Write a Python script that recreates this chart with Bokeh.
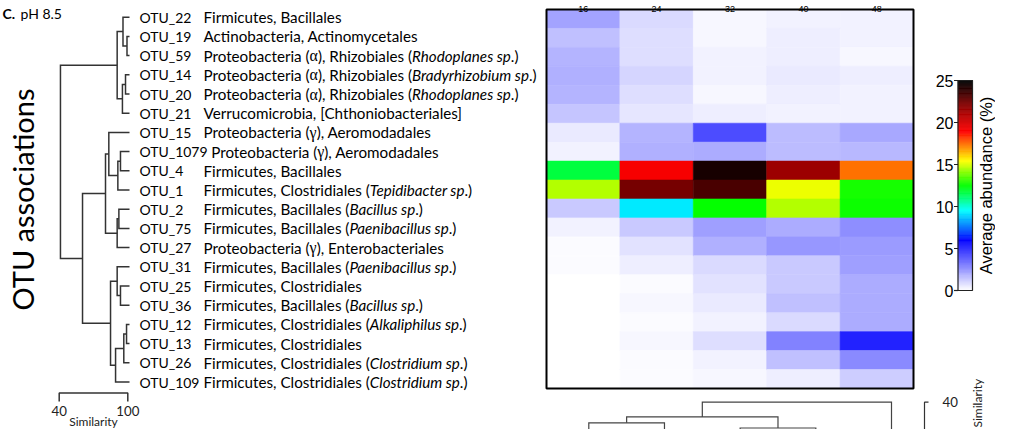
import os, glob
import numpy as np
from bokeh.plotting import figure
from bokeh.models import Range1d, ColumnDataSource, LinearColorMapper
from bokeh.transform import transform
from bokeh.core.properties import value
from bokeh.embed import file_html
from bokeh.resources import INLINE

# ---------------- data ----------------
otu_ids = ["OTU_22", "OTU_19", "OTU_59", "OTU_14", "OTU_20", "OTU_21", "OTU_15", "OTU_1079", "OTU_4", "OTU_1",
           "OTU_2", "OTU_75", "OTU_27", "OTU_31", "OTU_25", "OTU_36", "OTU_12", "OTU_13", "OTU_26", "OTU_109"]
phylum = ["Firmicutes", "Actinobacteria", "Proteobacteria", "Proteobacteria", "Proteobacteria", "Verrucomicrobia",
          "Proteobacteria", "Proteobacteria", "Firmicutes", "Firmicutes", "Firmicutes", "Firmicutes",
          "Proteobacteria", "Firmicutes", "Firmicutes", "Firmicutes", "Firmicutes", "Firmicutes", "Firmicutes",
          "Firmicutes"]
greek = ["", "", "α", "α", "α", "", "γ", "γ", "", "", "", "", "γ", "", "", "", "", "", "", ""]
order = ["Bacillales", "Actinomycetales", "Rhizobiales", "Rhizobiales", "Rhizobiales", "[Chthoniobacteriales]",
         "Aeromodadales", "Aeromodadales", "Bacillales", "Clostridiales", "Bacillales", "Bacillales",
         "Enterobacteriales", "Bacillales", "Clostridiales", "Bacillales", "Clostridiales", "Clostridiales",
         "Clostridiales", "Clostridiales"]
genus = ["", "", "Rhodoplanes", "Bradyrhizobium", "Rhodoplanes", "", "", "", "", "Tepidibacter", "Bacillus",
         "Paenibacillus", "", "Paenibacillus", "", "Bacillus", "Alkaliphilus", "", "Clostridium", "Clostridium"]

days = ["16", "24", "32", "40", "48"]
abund_16 = [2.2, 1.5, 1.8, 1.9, 1.8, 1.4, 0.5, 0.3, 11.8, 14.6, 1.3, 0.35, 0.15, 0.15, 0.0, 0.0, 0.0, 0.0, 0.0, 0.0]
abund_24 = [0.9, 0.8, 0.8, 1.0, 0.8, 0.6, 1.8, 1.9, 19.2, 22.4, 9.2, 1.3, 0.75, 0.4, 0.15, 0.25, 0.15, 0.25, 0.15, 0.15]
abund_32 = [0.25, 0.2, 0.3, 0.3, 0.2, 0.4, 4.2, 2.0, 24.5, 23.4, 12.5, 2.3, 1.95, 0.95, 0.75, 0.55, 0.3, 0.8, 0.35, 0.2]
abund_40 = [0.35, 0.4, 0.45, 0.55, 0.45, 0.35, 1.6, 1.6, 21.5, 15.3, 14.6, 2.0, 2.5, 1.35, 1.35, 1.55, 0.95, 3.0, 1.55, 0.4]
abund_48 = [0.35, 0.3, 0.25, 0.4, 0.3, 0.3, 2.1, 1.75, 17.4, 12.7, 12.6, 2.7, 2.4, 2.25, 2.0, 2.05, 2.05, 5.25, 2.8, 1.2]
abund = [abund_16, abund_24, abund_32, abund_40, abund_48]

# row dendrogram (leaves in display order 0..19, new nodes numbered from 20)
row_merge_a = [1, 0, 3, 22, 21, 7, 25, 6, 10, 28, 27, 14, 13, 16, 33, 34, 32, 30, 24]
row_merge_b = [2, 20, 4, 5, 23, 8, 9, 26, 11, 12, 29, 15, 31, 17, 18, 19, 35, 36, 37]
row_merge_sim = [99.3, 95.8, 98.0, 95.3, 90.7, 93.6, 91.3, 83.4, 92.2, 90.7, 80.5, 93.6, 90.7, 98.9, 96.5, 89.3,
                 84.9, 60.4, 41.1]
# column dendrogram (leaves 0..4 = days, new nodes from 5)
col_merge_a = [0, 2, 5, 7]
col_merge_b = [1, 3, 6, 4]
col_merge_sim = [69.8, 77.3, 61.3, 40.0]

sim_ticks = [40, 100]
cbar_ticks = [0, 5, 10, 15, 20, 25]
cbar_low, cbar_high = 0, 25

# ---------------- layout helpers ----------------
W, H = 995, 429


def xr(d0, s0, d1, s1):
    k = (s1 - s0) / (d1 - d0)
    left = d0 - s0 / k
    return Range1d(start=left, end=left + W / k)


def yr(d0, s0, d1, s1):
    k = (s1 - s0) / (d1 - d0)
    top = d0 - s0 / k
    return Range1d(start=top + H / k, end=top)


def _ff(names):
    roots = ["/usr/share/fonts", "/usr/local/share/fonts", os.path.expanduser("~/.fonts"),
             os.path.expanduser("~/.local/share/fonts")]
    for n in names:
        for root in roots:
            hits = glob.glob(os.path.join(root, "**", n), recursive=True)
            if hits:
                return hits[0]
    return None


FONT_FILES = {"reg": _ff(["Lato-Regular.ttf", "Lato-Regular.otf"]),
              "ital": _ff(["Lato-Italic.ttf", "Lato-Italic.otf"]),
              "serif": _ff(["LiberationSerif-Regular.ttf", "DejaVuSerif.ttf"]),
              "sans": _ff(["LiberationSans-Regular.ttf"])}
FALLBACK_EM = {"reg": 0.52, "ital": 0.50, "serif": 0.50, "sans": 0.55}
_cache = {}


def em_width(text, key):
    path = FONT_FILES.get(key)
    if path:
        try:
            from PIL import ImageFont
            if key not in _cache:
                _cache[key] = ImageFont.truetype(path, 200)
            return _cache[key].getlength(text) / 200.0
        except Exception:
            pass
    return FALLBACK_EM[key] * len(text)


SERIF_SCALE = 1.05


def tax_pieces(i):
    pieces = [(phylum[i], "reg")]
    if greek[i]:
        pieces += [(" (", "reg"), (greek[i], "serif"), (")", "reg")]
    pieces += [(", " + order[i], "reg")]
    if genus[i]:
        pieces += [(" (", "reg"), (genus[i] + " sp", "ital"), (".)", "reg")]
    return pieces


def tax_em(i):
    return sum(em_width(t, k) * (SERIF_SCALE if k == "serif" else 1.0) for t, k in tax_pieces(i))


FS_ID = 60.0 / em_width("OTU_109", "reg")        # id font size (px)
FS_TAX = 264.0 / tax_em(len(otu_ids) - 1)        # taxonomy font size (px)
FS_BIG = 222.0 / em_width("OTU associations", "reg")


def px(v):
    return "%.2fpx" % v


# ---------------- palette ----------------
stops = [(0, (255, 255, 255)), (6, (0, 0, 255)), (9.5, (0, 255, 255)), (12.5, (0, 255, 0)),
         (15.5, (255, 255, 0)), (19, (255, 0, 0)), (22, (139, 0, 0)), (25, (0, 0, 0))]
pal = []
for t in np.linspace(0, 25, 256):
    for (a, ca), (b, cb) in zip(stops[:-1], stops[1:]):
        if a <= t <= b:
            f = (t - a) / (b - a)
            c = [int(round(ca[i] + (cb[i] - ca[i]) * f)) for i in range(3)]
            pal.append("#%02x%02x%02x" % tuple(c))
            break
mapper = LinearColorMapper(palette=pal, low=cbar_low, high=cbar_high)

# ---------------- figure ----------------
p = figure(width=W, height=H, x_range=Range1d(0, W), y_range=Range1d(H, 0),
           output_backend="svg", toolbar_location=None, min_border=0,
           x_axis_location=None, y_axis_location=None, outline_line_color=None,
           background_fill_color="white", border_fill_color="white")
p.xgrid.visible = False
p.ygrid.visible = False

n_rows, n_cols = len(otu_ids), len(days)
CB_SHIFT = -13
p.extra_x_ranges = {"hx": xr(0, 546, n_cols, 913), "lsim": xr(40, 58.7, 100, 127.3),
                    "bcol": xr(0, 588.3, n_cols - 1, 891), "cbx": xr(0, 970.5 + CB_SHIFT, 1, 985 + CB_SHIFT)}
p.extra_y_ranges = {"hy": yr(0, 9, n_rows, 388), "leaf": yr(0, 16.7, n_rows - 1, 381.5),
                    "bsim": yr(40, 401.7, 77.3, 427.5), "cby": yr(cbar_low, 290, cbar_high, 80)}

# heatmap
hx, hy, hv = [], [], []
for c, col in enumerate(abund):
    for r, v in enumerate(col):
        hx.append(c + 0.5)
        hy.append(r + 0.5)
        hv.append(v)
hsrc = ColumnDataSource(dict(x=hx, y=hy, v=hv))
p.rect(x="x", y="y", width=1, height=1, source=hsrc, fill_color=transform("v", mapper),
       line_color=transform("v", mapper), line_width=0.6, x_range_name="hx", y_range_name="hy")
p.rect(x=[n_cols / 2], y=[n_rows / 2], width=n_cols, height=n_rows, fill_color=None,
       line_color="black", line_width=2, x_range_name="hx", y_range_name="hy")

# column headers (the reference shows them cut at the top edge; kept small so they stay in view)
p.text(x=[i + 0.5 for i in range(n_cols)], y=[8.6] * n_cols, text=days, x_range_name="hx",
       text_font=value("Liberation Sans"), text_font_size="9px", text_align="center",
       text_baseline="alphabetic", text_color="black")


# dendrograms
def dendro_paths(n_leaves, a_list, b_list, h_list, leaf_h):
    pos = [float(i) for i in range(n_leaves)]
    hgt = [leaf_h] * n_leaves
    hs, ps = [], []
    for a, b, h in zip(a_list, b_list, h_list):
        hs.append([hgt[a], h, h, hgt[b]])
        ps.append([pos[a], pos[a], pos[b], pos[b]])
        pos.append((pos[a] + pos[b]) / 2.0)
        hgt.append(h)
    return hs, ps


lh, lp = dendro_paths(n_rows, row_merge_a, row_merge_b, row_merge_sim, 101.5)
p.multi_line(xs=lh, ys=lp, line_color="#333333", line_width=1.5, line_join="miter",
             x_range_name="lsim", y_range_name="leaf")

bh, bp = dendro_paths(n_cols, col_merge_a, col_merge_b, col_merge_sim, 100)
p.multi_line(xs=bp, ys=bh, line_color="#444444", line_width=1.2, line_join="miter",
             x_range_name="bcol", y_range_name="bsim")

# left similarity scale bar
p.multi_line(xs=[[sim_ticks[0], sim_ticks[0], sim_ticks[1], sim_ticks[1]]], ys=[[401, 392.5, 392.5, 401]],
             line_color="#333333", line_width=1.5, x_range_name="lsim")
p.text(x=sim_ticks, y=[410] * 2, text=[str(t) for t in sim_ticks], x_range_name="lsim",
       text_font=value("Lato"), text_font_size=px(FS_ID * 0.95), text_align="center", text_baseline="middle",
       text_color="#222222")
p.text(x=[70], y=[421.3], text=["Similarity"], x_range_name="lsim", text_font=value("Lato"),
       text_font_size="12px", text_align="center", text_baseline="middle", text_color="#222222")

# bottom-right similarity scale bar
p.multi_line(xs=[[928, 924, 924]], ys=[[sim_ticks[0], sim_ticks[0], sim_ticks[1]]], line_color="#333333",
             line_width=1.2, y_range_name="bsim")
p.text(x=[942], y=[sim_ticks[0]], text=[str(sim_ticks[0])], y_range_name="bsim", text_font=value("Lato"),
       text_font_size=px(FS_ID * 0.95), text_align="left", text_baseline="middle", text_color="#222222")
p.text(x=[977], y=[427], text=["Similarity"], angle=np.pi / 2, text_font=value("Lato"),
       text_font_size="12px", text_align="left", text_baseline="middle", text_color="#222222")

# row labels
segs = {"id": ([], [], []), "reg": ([], [], []), "ital": ([], [], []), "serif": ([], [], [])}


def add(key, x, y, t):
    segs[key][0].append(x)
    segs[key][1].append(y)
    segs[key][2].append(t)


for i, oid in enumerate(otu_ids):
    add("id", 139, i, oid)
    x = max(203.0, 139 + FS_ID * em_width(oid + " ", "reg"))
    for t, k in tax_pieces(i):
        size = FS_TAX * (SERIF_SCALE if k == "serif" else 1.0)
        stripped = t.lstrip(" ")
        lead = t[:len(t) - len(stripped)]
        if lead:
            x += FS_TAX * em_width(lead, "reg")
        add(k, x, i, stripped)
        x += size * em_width(stripped, k)

for key, style, font, size in [("id", "normal", "Lato", FS_ID), ("reg", "normal", "Lato", FS_TAX),
                               ("ital", "italic", "Lato", FS_TAX),
                               ("serif", "normal", "Liberation Serif", FS_TAX * SERIF_SCALE)]:
    xs_, ys_, ts_ = segs[key]
    src = ColumnDataSource(dict(x=xs_, y=ys_, t=ts_))
    p.text(x="x", y="y", text="t", source=src, y_range_name="leaf", text_font=value(font),
           text_font_style=style, text_font_size=px(size), text_align="left", text_baseline="middle",
           text_color="black")

# left axis title
p.text(x=[21.5], y=[199], text=["OTU associations"], angle=np.pi / 2, text_font=value("Lato"),
       text_font_size=px(FS_BIG), text_align="center", text_baseline="middle", text_color="black")

# panel title (cut at the top in the reference; kept small so it stays in view)
p.text(x=[2], y=[13], text=["C."], text_font=value("Lato"), text_font_style="bold",
       text_font_size="14px", text_align="left", text_baseline="alphabetic", text_color="black")
p.text(x=[20], y=[13], text=["pH 8.5"], text_font=value("Lato"), text_font_size="14px",
       text_align="left", text_baseline="alphabetic", text_color="black")

# colour bar
edges = np.linspace(cbar_low, cbar_high, 251)
cb_src = ColumnDataSource(dict(b=edges[:-1], t=edges[1:], m=(edges[:-1] + edges[1:]) / 2))
p.quad(left=0, right=1, bottom="b", top="t", source=cb_src, fill_color=transform("m", mapper),
       line_color=transform("m", mapper), line_width=0.5, x_range_name="cbx", y_range_name="cby")
p.quad(left=[0], right=[1], bottom=[cbar_low], top=[cbar_high], fill_color=None, line_color="#222222",
       line_width=1.2, x_range_name="cbx", y_range_name="cby")
p.segment(x0=[966.5 + CB_SHIFT] * len(cbar_ticks), x1=[970.5 + CB_SHIFT] * len(cbar_ticks), y0=cbar_ticks,
          y1=cbar_ticks, line_color="#222222", line_width=1.2, y_range_name="cby")
p.text(x=[966 + CB_SHIFT] * len(cbar_ticks), y=cbar_ticks, text=[str(t) for t in cbar_ticks],
       y_range_name="cby", text_font=value("Liberation Sans"), text_font_size="16px", text_align="right",
       text_baseline="middle", text_color="black")
p.text(x=[985], y=[(cbar_low + cbar_high) / 2], text=["Average abundance (%)"], angle=np.pi / 2,
       y_range_name="cby", text_font=value("Liberation Sans"), text_font_size="16.5px", text_align="center",
       text_baseline="middle", text_color="black")

open("out.html", "w").write(file_html(p, INLINE))
